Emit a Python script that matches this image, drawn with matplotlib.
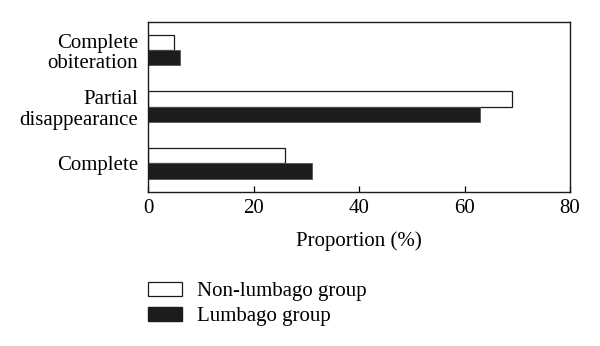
import numpy as np
import matplotlib.pyplot as plt
from matplotlib.patches import Patch

plt.rcParams['font.family'] = ['Liberation Serif', 'DejaVu Serif']

categories = ['Complete', 'Partial\ndisappearance', 'Complete\nobiteration']
non_lumbago = [26, 69, 5]
lumbago = [31, 63, 6]
xticks = [0, 20, 40, 60, 80]

fig = plt.figure(figsize=(6, 3.46), dpi=100)
ax = fig.add_axes([148 / 600, 1 - 191.7 / 346, 422 / 600, 170 / 346])

y = np.arange(len(categories))
h = 0.27
ax.barh(y + h / 2, non_lumbago, height=h, color='white', edgecolor='#1a1a1a', linewidth=0.9)
ax.barh(y - h / 2, lumbago, height=h, color='#1c1c1c', edgecolor='#555555', linewidth=0.6)

fs = 15
ax.set_xlim(0, 80)
ax.set_ylim(-0.5, 2.5)
ax.set_xticks(xticks)
ax.set_yticks(y)
ax.set_yticklabels(categories, fontsize=fs, linespacing=1.12)
ax.tick_params(axis='y', length=0, pad=7)
ax.tick_params(axis='x', direction='in', length=4, width=0.9, labelsize=fs, pad=5)
for s in ax.spines.values():
    s.set_linewidth(1.0)
    s.set_color('#1a1a1a')
ax.set_xlabel('Proportion (%)', fontsize=fs, labelpad=10)

handles = [Patch(facecolor='white', edgecolor='#1a1a1a', linewidth=0.9),
           Patch(facecolor='#1c1c1c', edgecolor='#1c1c1c')]
fig.legend(handles, ['Non-lumbago group', 'Lumbago group'], loc='upper left',
           bbox_to_anchor=(148 / 600, 1 - 282 / 346), frameon=False,
           fontsize=fs, borderpad=0, borderaxespad=0,
           handlelength=1.63, handleheight=0.67, handletextpad=0.72, labelspacing=0.26)

fig.savefig('out.png', dpi=100)
